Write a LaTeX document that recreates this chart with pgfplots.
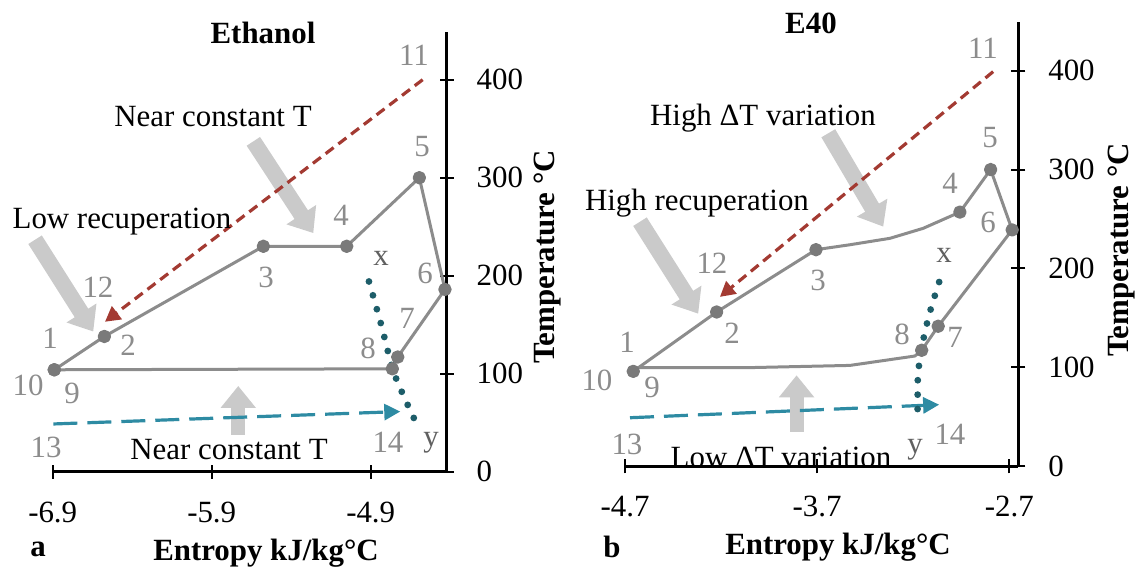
\documentclass[border=0pt]{standalone}
\usepackage{fontspec}
\setmainfont{Liberation Serif}
\usepackage{pgfplots}
\pgfplotsset{compat=1.18}
\usetikzlibrary{arrows.meta}
\definecolor{cyc}{HTML}{8C8C8C}
\definecolor{mk}{HTML}{7A7A7A}
\definecolor{lbl}{HTML}{8C8C8C}
\definecolor{big}{HTML}{CACACA}
\definecolor{red1}{HTML}{A33A32}
\definecolor{teal1}{HTML}{2E8BA3}
\definecolor{dot1}{HTML}{1D5D69}
\definecolor{xy}{HTML}{606060}
\pgfplotsset{
 myax/.style={
  scale only axis, clip=false,
  axis x line=bottom, axis y line=right,
  every outer x axis line/.append style={-},
  every outer y axis line/.append style={-},
  axis line style={line width=1.5bp, black},
  tick align=center, major tick length=7bp,
  tick style={line width=1bp, black},
  ymin=0, ytick={0,100,200,300,400},
  /pgf/number format/assume math mode=true,
  tick label style={font=\fontsize{15.5}{18}\selectfont},
  yticklabel style={xshift=8bp},
  xticklabel style={yshift=-8bp},
 },
 cycle/.style={color=cyc, line width=1.5bp, line join=round, mark=*, mark size=2.6bp, mark options={fill=mk, draw=mk}},
 redarr/.style={red1, line width=1.6bp, dash pattern=on 5bp off 3bp, -{Triangle[length=7.5bp,width=8bp]}},
 tealarr/.style={teal1, line width=1.6bp, dash pattern=on 12bp off 5bp, -{Triangle[length=8bp,width=8bp]}},
 dotl/.style={dot1, line width=3.4bp, line cap=round, dash pattern=on 0bp off 7.2bp},
}
\tikzset{bigarr/.style={big, line width=8bp, -{Triangle[length=11bp,width=17bp]}}}
\begin{document}
\begin{tikzpicture}
\path[use as bounding box] (0,0) rectangle (570bp,283.5bp);
% ---------- left panel ----------
\begin{axis}[myax, at={(26.35bp,47.65bp)}, anchor=south west,
  width=197bp, height=220bp,
  xmin=-6.9, xmax=-4.422, ymax=449,
  xtick={-6.9,-5.9,-4.9}, xticklabels={-6.9,-5.9,-4.9}]
\draw[bigarr] (axis cs:-7.011,236.7) -- (axis cs:-6.645,143);
\draw[bigarr] (axis cs:-5.638,337.1) -- (axis cs:-5.261,243.5);
\draw[bigarr, line width=7bp] (axis cs:-5.733,37.5) -- (axis cs:-5.733,87.5);
\addplot[cycle] coordinates {(-6.89,104) (-6.575,138) (-5.575,230) (-5.051,230) (-4.594,300) (-4.433,186) (-4.730,117) (-4.764,105) (-6.89,104)};
\addplot[redarr] coordinates {(-4.573,400) (-6.571,153)};
\addplot[tealarr] coordinates {(-6.896,48.7) (-4.714,61.4)};
\addplot[dotl, smooth] coordinates {(-4.911,194.1) (-4.835,150.6) (-4.762,104.9) (-4.691,76.6) (-4.611,48.7)};
\end{axis}
% ---------- right panel ----------
\begin{axis}[myax, at={(312.5bp,50.35bp)}, anchor=south west,
  width=196.65bp, height=222.3bp,
  xmin=-4.7, xmax=-2.653, ymax=449.5,
  xtick={-4.7,-3.7,-2.7}, xticklabels={-4.7,-3.7,-2.7}]
\draw[bigarr] (axis cs:-4.622,247.3) -- (axis cs:-4.319,154.3);
\draw[bigarr] (axis cs:-3.642,336.7) -- (axis cs:-3.356,242.3);
\draw[bigarr, line width=7bp] (axis cs:-3.807,34.7) -- (axis cs:-3.807,92);
\addplot[cycle, mark indices={1,2,3,7,8,9,10,11}] coordinates {(-4.657,96) (-4.223,156) (-3.706,219) (-3.529,224) (-3.321,230.5) (-3.148,240.6) (-2.957,257) (-2.797,300) (-2.685,239) (-3.070,141.6) (-3.156,117.3) (-3.191,111.5) (-3.529,102) (-4.067,99.7) (-4.631,99.7) (-4.657,96)};
\addplot[redarr] coordinates {(-2.784,399) (-4.206,171.3)};
\addplot[tealarr] coordinates {(-4.674,49.1) (-3.065,62.3)};
\addplot[dotl, smooth] coordinates {(-3.065,186.3) (-3.113,156) (-3.148,127.4) (-3.174,95.3) (-3.177,65) (-3.177,49.9)};
\end{axis}
% ---------- text ----------
\begin{scope}[x=0.5bp,y=-0.5bp,yshift=283.5bp, every node/.style={font=\fontsize{15.5}{18}\selectfont, inner sep=0pt}]
\node[font=\fontsize{15.5}{18}\selectfont\bfseries] at (263,33) {Ethanol};
\node at (213,117) {Near constant T};
\node at (122,222) {Low recuperation};
\node at (229,450) {Near constant T};
\begin{scope}[every node/.append style={text=lbl}]
\node at (414,55) {11}; \node at (422,147) {5}; \node at (341,215) {4};
\node at (266,277) {3}; \node at (425,273) {6}; \node at (98,287) {12};
\node at (50,338) {1}; \node at (128,345) {2}; \node at (407,318) {7};
\node at (368,348) {8}; \node at (28,385) {10}; \node at (72,393) {9};
\node at (46,447) {13}; \node at (388,442) {14};
\node at (983,48) {11}; \node at (990,138) {5}; \node at (950,183) {4};
\node at (988,222) {6}; \node at (712,263) {12}; \node at (818,280) {3};
\node at (627,342) {1}; \node at (732,333) {2}; \node at (597,380) {10};
\node at (652,387) {9}; \node at (627,444) {13}; \node at (902,334) {8};
\node at (955,337) {7}; \node at (950,434) {14};
\end{scope}
\node[text=xy] at (381,258) {x}; \node[text=xy] at (431,443) {y};
\node[text=xy] at (944,255) {x}; \node[text=xy] at (915,450) {y};
\node[font=\fontsize{15.5}{18}\selectfont\bfseries] at (38,549) {a};
\node[font=\fontsize{15.5}{18}\selectfont\bfseries] at (266,553) {Entropy kJ/kg°C};
\node[font=\fontsize{15.5}{18}\selectfont\bfseries, rotate=90] at (548,257) {Temperature °C};
\node[font=\fontsize{15.5}{18}\selectfont\bfseries] at (811,23) {E40};
\node at (763,118) {High ΔT variation};
\node at (697,203) {High recuperation};
\node at (781,457) {Low ΔT variation};
\node[font=\fontsize{15.5}{18}\selectfont\bfseries] at (612,547) {b};
\node[font=\fontsize{15.5}{18}\selectfont\bfseries] at (838,547) {Entropy kJ/kg°C};
\node[font=\fontsize{15.5}{18}\selectfont\bfseries, rotate=90] at (1122,250) {Temperature °C};
\end{scope}
\end{tikzpicture}
\end{document}
